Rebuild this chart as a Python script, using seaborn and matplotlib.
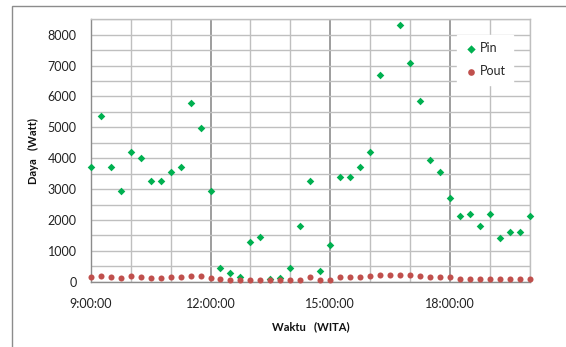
import numpy as np
import pandas as pd
import seaborn as sns
import matplotlib.pyplot as plt
from matplotlib.patches import Rectangle

# waktu pengukuran tiap 15 menit, 9:00 - 20:00
waktu = pd.date_range("09:00", "20:00", freq="15min").strftime("%H:%M").tolist()

pin = [3700, 5370, 3700, 2950, 4200, 4020, 3270, 3270, 3550, 3700, 5780, 4970,
       2950, 450, 280, 150, 1270, 1450, 80, 120, 430, 1800, 3270, 360,
       1180, 3400, 3400, 3700, 4200, 6680, np.nan, 8330, 7100, 5850, 3950, 3550,
       2700, 2120, 2200, 1800, 2200, 1430, 1610, 1610, 2120]

pout = [140, 190, 140, 130, 175, 150, 130, 130, 140, 140, 190, 190,
        130, 80, 45, 45, 60, 60, 45, 50, 60, 55, 140, 55,
        70, 150, 150, 150, 175, 205, 215, 225, 225, 195, 160, 160,
        140, 85, 85, 75, 85, 75, 75, 75, 85]

tick_pos = [9, 12, 15, 18]
tick_labels = ["9:00:00", "12:00:00", "15:00:00", "18:00:00"]

jam = pd.to_timedelta([w + ":00" for w in waktu]) / pd.Timedelta(hours=1)
df = pd.DataFrame({"jam": jam, "Pin": pin, "Pout": pout})

sns.set_theme(style="white")
plt.rcParams["font.family"] = ["Lato", "DejaVu Sans"]

fig = plt.figure(figsize=(5.66, 3.47), dpi=100)
ax = fig.add_axes([90.7 / 566, 1 - 281.7 / 347, 439.3 / 566, 262.4 / 347])

sns.scatterplot(data=df, x="jam", y="Pin", ax=ax, marker="D", s=15,
                color="#00b050", linewidth=0, label="Pin", clip_on=False, zorder=3)
sns.scatterplot(data=df, x="jam", y="Pout", ax=ax, marker="o", s=19,
                color="#c0504d", linewidth=0, label="Pout", clip_on=False, zorder=3)

ax.set_xlim(9, 20)
ax.set_ylim(0, 8500)
ax.set_xticks(tick_pos)
ax.set_xticklabels(tick_labels)
ax.set_xticks(np.arange(9, 21, 1), minor=True)
ax.set_yticks(np.arange(0, 8001, 1000))
ax.set_yticks(np.arange(0, 8501, 500), minor=True)

ax.grid(False)
ax.grid(which="minor", axis="x", color="#bfbfbf", linewidth=1)
ax.grid(which="major", axis="x", color="#8c8c8c", linewidth=1.2)
ax.grid(which="both", axis="y", color="#bfbfbf", linewidth=1)
ax.set_axisbelow(True)

ax.tick_params(axis="x", which="major", length=4, color="#8c8c8c", labelsize=9,
               labelcolor="#222222", pad=8)
ax.tick_params(axis="x", which="minor", length=0)
ax.tick_params(axis="y", which="both", length=0, labelsize=9, labelcolor="#222222", pad=10)

for s in ["left", "bottom"]:
    ax.spines[s].set_color("#8c8c8c")
    ax.spines[s].set_linewidth(1)
for s in ["top", "right"]:
    ax.spines[s].set_color("#bfbfbf")
    ax.spines[s].set_linewidth(1)

ax.set_xlabel("Waktu   (WITA)", fontsize=8, fontweight="bold", color="#111111")
ax.set_ylabel("Daya   (Watt)", fontsize=8, fontweight="bold", color="#111111")
ax.xaxis.set_label_coords(0.5, -0.15)
ax.yaxis.set_label_coords(-0.118, 0.5)

leg = ax.legend(loc="upper left", bbox_to_anchor=(0.82, 0.965), frameon=True,
                fancybox=False, framealpha=1, edgecolor="white", fontsize=9,
                handletextpad=0.2, labelspacing=0.9, borderpad=0.6,
                handlelength=1.0, markerscale=1.1)

# bingkai area chart
fig.patches.append(Rectangle((11.7 / 566, -0.1), 1.2, 1.1 - 5.7 / 347,
                             transform=fig.transFigure, fill=False,
                             edgecolor="#8c8c8c", linewidth=1))

fig.savefig("out.png", dpi=100)
